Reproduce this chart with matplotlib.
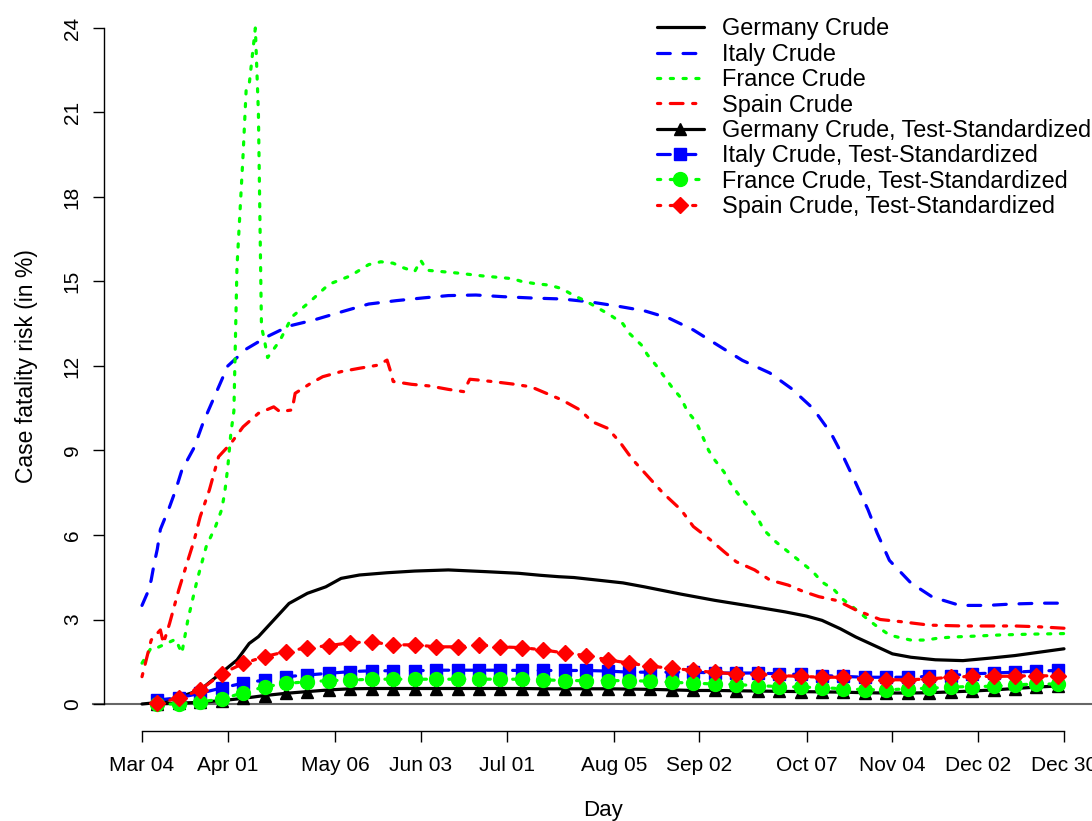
import numpy as np
import pandas as pd
import matplotlib
matplotlib.use("Agg")
import matplotlib.pyplot as plt

plt.rcParams['font.family'] = ['Liberation Sans', 'DejaVu Sans']

# --- data (days since 2020-03-04) ---
start = pd.Timestamp("2020-03-04")
tick_dates = ["2020-03-04", "2020-04-01", "2020-05-06", "2020-06-03", "2020-07-01",
              "2020-08-05", "2020-09-02", "2020-10-07", "2020-11-04", "2020-12-02",
              "2020-12-30"]
tick_labels = ["Mar 04", "Apr 01", "May 06", "Jun 03", "Jul 01", "Aug 05",
               "Sep 02", "Oct 07", "Nov 04", "Dec 02", "Dec 30"]
tick_days = [(pd.Timestamp(t) - start).days for t in tick_dates]

germany_days = [0, 5, 11, 19, 25, 31, 35, 38, 43, 48, 54, 60, 65, 71, 80, 89, 100,
                112, 123, 130, 136, 141, 157, 164, 176, 187, 199, 210, 217, 222,
                228, 233, 239, 245, 251, 259, 268, 277, 285, 293, 301]
germany_crude = [0.0, 0.05, 0.2, 0.5, 1.03, 1.56, 2.15, 2.39, 2.98, 3.57, 3.93, 4.16,
                 4.46, 4.58, 4.66, 4.72, 4.76, 4.7, 4.64, 4.57, 4.52, 4.49, 4.3, 4.16,
                 3.9, 3.68, 3.47, 3.27, 3.12, 2.97, 2.67, 2.38, 2.08, 1.78, 1.66,
                 1.57, 1.54, 1.63, 1.72, 1.84, 1.96]

italy_days = [0, 2, 3, 4, 5, 6, 9, 11, 13, 17, 20, 24, 28, 34, 41, 48, 56, 66, 74,
              83, 92, 100, 109, 118, 128, 137, 146, 155, 164, 172, 180, 189, 196,
              205, 212, 219, 225, 229, 233, 237, 240, 244, 251, 258, 267, 276, 284,
              294, 301]
italy_crude = [3.5, 4.0, 4.4, 5.0, 5.5, 6.2, 7.0, 7.6, 8.3, 9.1, 10.0, 11.0, 12.0,
               12.6, 13.05, 13.42, 13.63, 13.95, 14.2, 14.32, 14.42, 14.5, 14.52,
               14.46, 14.41, 14.38, 14.28, 14.13, 13.96, 13.7, 13.28, 12.67, 12.2,
               11.75, 11.2, 10.5, 9.6, 8.77, 7.85, 6.9, 6.07, 5.1, 4.3, 3.8, 3.5,
               3.5, 3.55, 3.58, 3.58]

france_days = [0, 3, 5, 9, 11, 13, 15, 18, 21, 24, 26, 27, 28, 29, 30, 31, 32, 33,
               34, 35, 36, 37, 38, 39, 40, 41, 43, 45, 49, 55, 61, 68, 74, 78, 82,
               85, 89, 91, 93, 98, 103, 107, 111, 116, 121, 124, 128, 133, 137, 141,
               145, 149, 153, 157, 159, 163, 165, 168, 170, 173, 176, 178, 181, 183,
               185, 187, 190, 192, 195, 198, 201, 203, 207, 211, 215, 219, 222, 226,
               229, 232, 237, 240, 244, 248, 251, 256, 260, 265, 272, 280, 290, 301]
france_crude = [1.45, 2.0, 2.0, 2.2, 2.3, 1.8, 3.0, 4.4, 5.6, 6.3, 6.9, 7.5, 8.4,
                9.6, 10.4, 15.5, 17.5, 19.5, 21.8, 22.0, 23.0, 24.0, 21.0, 13.4,
                12.9, 12.3, 12.6, 12.9, 13.75, 14.3, 14.9, 15.2, 15.6, 15.7, 15.65,
                15.5, 15.35, 15.75, 15.4, 15.35, 15.3, 15.25, 15.2, 15.15, 15.1, 15.0,
                14.93, 14.87, 14.75, 14.5, 14.3, 14.05, 13.8, 13.5, 13.17, 12.75,
                12.4, 12.0, 11.7, 11.25, 10.86, 10.4, 10.0, 9.5, 9.0, 8.66, 8.24,
                7.85, 7.4, 7.0, 6.6, 6.18, 5.75, 5.4, 5.05, 4.7, 4.33, 4.05, 3.7,
                3.45, 3.0, 2.75, 2.45, 2.34, 2.27, 2.27, 2.34, 2.38, 2.41, 2.45, 2.48,
                2.5]

spain_days = [0, 3, 6, 7, 9, 12, 15, 17, 19, 22, 25, 29, 33, 38, 43, 45, 49, 50, 55,
              59, 65, 71, 77, 80, 81, 82, 88, 94, 100, 105, 107, 110, 115, 121, 127,
              132, 137, 143, 147, 152, 156, 160, 165, 170, 176, 180, 185, 190, 194,
              200, 205, 211, 216, 221, 227, 233, 241, 248, 257, 268, 285, 293, 301]
spain_crude = [0.97, 2.27, 2.63, 2.15, 2.86, 4.05, 5.11, 5.8, 6.65, 7.6, 8.78, 9.25,
               9.84, 10.32, 10.55, 10.38, 10.44, 11.03, 11.38, 11.62, 11.8, 11.92,
               12.03, 12.21, 11.86, 11.45, 11.35, 11.29, 11.17, 11.09, 11.53, 11.5,
               11.44, 11.36, 11.26, 11.03, 10.8, 10.44, 10.02, 9.79, 9.3, 8.7, 8.1,
               7.5, 6.89, 6.3, 5.88, 5.41, 5.05, 4.76, 4.4, 4.22, 3.99, 3.81, 3.67,
               3.34, 3.0, 2.92, 2.8, 2.77, 2.77, 2.74, 2.69]

# test-standardized: weekly values from Mar 09
germany_std = [0.0, 0.03, 0.06, 0.12, 0.2, 0.3, 0.38, 0.44, 0.5, 0.54, 0.55, 0.55,
               0.55, 0.55, 0.55, 0.55, 0.55, 0.55, 0.54, 0.54, 0.54, 0.54, 0.53,
               0.52, 0.5, 0.48, 0.48, 0.47, 0.46, 0.45, 0.44, 0.43, 0.42, 0.4, 0.39,
               0.39, 0.4, 0.43, 0.46, 0.5, 0.55, 0.6, 0.64]
italy_std = [0.14, 0.22, 0.38, 0.57, 0.74, 0.85, 0.97, 1.03, 1.09, 1.15, 1.18, 1.18,
             1.18, 1.2, 1.2, 1.2, 1.2, 1.19, 1.19, 1.19, 1.19, 1.17, 1.13, 1.13,
             1.13, 1.13, 1.1, 1.1, 1.1, 1.07, 1.05, 1.01, 0.98, 0.95, 0.95, 0.95,
             0.98, 1.01, 1.07, 1.1, 1.13, 1.17, 1.19]
france_std = [0.0, 0.0, 0.08, 0.17, 0.4, 0.61, 0.73, 0.79, 0.83, 0.85, 0.88, 0.88,
              0.88, 0.88, 0.88, 0.88, 0.88, 0.88, 0.86, 0.83, 0.83, 0.83, 0.83,
              0.81, 0.77, 0.74, 0.71, 0.69, 0.65, 0.62, 0.6, 0.58, 0.54, 0.51, 0.5,
              0.54, 0.56, 0.6, 0.62, 0.63, 0.68, 0.71, 0.71]
spain_std = [0.05, 0.2, 0.5, 1.07, 1.44, 1.68, 1.86, 2.0, 2.07, 2.18, 2.2, 2.1, 2.1,
             2.03, 2.03, 2.1, 2.03, 2.0, 1.92, 1.81, 1.72, 1.57, 1.45, 1.34, 1.27,
             1.19, 1.12, 1.07, 1.05, 1.01, 0.98, 0.95, 0.95, 0.89, 0.86, 0.86, 0.89,
             0.95, 0.98, 0.98, 0.99, 1.01, 0.99]
std_days = pd.date_range("2020-03-09", periods=len(germany_std), freq="7D")
std_days = (std_days - start).days

LW = 2.3
dash = (0, (4, 4))
dot = (0, (1, 3))
dotdash = (0, (1, 3, 4, 3))

fig = plt.figure(figsize=(10.92, 8.21), dpi=100)
ax = fig.add_axes([142 / 1092, 117 / 821, 922 / 1092, 676 / 821])

ax.axhline(0, xmin=-0.053, xmax=1.04, color="#666666", lw=1.5, clip_on=False,
           zorder=1)

kw = dict(lw=LW, dash_capstyle="round", solid_capstyle="round", clip_on=False)
ax.plot(germany_days, germany_crude, color="black", ls="-", label="Germany Crude", **kw)
ax.plot(italy_days, italy_crude, color="#0000FF", ls=dash, label="Italy Crude", **kw)
ax.plot(france_days, france_crude, color="#00FF00", ls=dot, label="France Crude", **kw)
ax.plot(spain_days, spain_crude, color="#FF0000", ls=dotdash, label="Spain Crude", **kw)

ax.plot(std_days, germany_std, color="black", ls="-", marker="^", ms=9,
        label="Germany Crude, Test-Standardized", **kw)
ax.plot(std_days, italy_std, color="#0000FF", ls=dash, marker="s", ms=9,
        label="Italy Crude, Test-Standardized", **kw)
ax.plot(std_days, france_std, color="#00FF00", ls=dot, marker="o", ms=10,
        label="France Crude, Test-Standardized", **kw)
ax.plot(std_days, spain_std, color="#FF0000", ls=dotdash, marker="D", ms=8,
        label="Spain Crude, Test-Standardized", **kw)

ax.set_xlim(0, 301)
ax.set_ylim(0, 24)

for s in ["top", "right"]:
    ax.spines[s].set_visible(False)
ax.spines["left"].set_position(("outward", 27.5))
ax.spines["bottom"].set_position(("outward", 19.5))
ax.spines["left"].set_bounds(0, 24)
ax.spines["bottom"].set_bounds(0, 301)
ax.spines["left"].set_linewidth(1.0)
ax.spines["bottom"].set_linewidth(1.0)

ax.set_yticks(np.arange(0, 25, 3))
ax.set_yticklabels([str(v) for v in range(0, 25, 3)], rotation=90, va="center")
ax.set_xticks(tick_days)
ax.set_xticklabels(tick_labels)
ax.tick_params(axis="both", length=7.8, width=1.0, labelsize=15)
ax.tick_params(axis="y", pad=8)
ax.tick_params(axis="x", pad=10)

ax.set_xlabel("Day", fontsize=16, labelpad=18)
ax.set_ylabel("Case fatality risk (in %)", fontsize=16.5, labelpad=18)

fig.legend(loc="upper left", bbox_to_anchor=(657 / 1092, 1 - 17.5 / 821),
           frameon=False, fontsize=16.9, handlelength=2.0, handletextpad=0.75,
           labelspacing=0.1, borderpad=0, borderaxespad=0)

fig.savefig("out.png", dpi=100, facecolor="white")
